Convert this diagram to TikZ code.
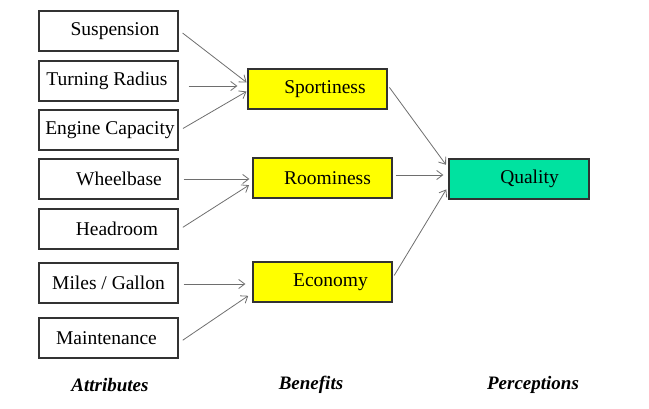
\documentclass[tikz,border=0pt]{standalone}
\usepackage{fontspec}
\setmainfont{Liberation Serif}
\usepackage{xcolor}
\usepackage{tikz}
\usetikzlibrary{
	arrows.meta,
	positioning
}
\definecolor{benefitYellow}{RGB}{255,255,0}
\definecolor{qualGreen}{RGB}{0,226,160}
\definecolor{frameGray}{RGB}{50,50,50}
\definecolor{linkGray}{RGB}{110,110,110}

\tikzset{
	attr/.style={draw=frameGray, line width=1.3pt, fill=white, minimum width=139pt, minimum height=40pt,
		inner sep=0pt, font=\fontsize{19.5}{22}\selectfont},
	benefit/.style={attr, fill=benefitYellow},
	percept/.style={attr, fill=qualGreen, minimum width=140pt},
	heading/.style={font=\fontsize{19}{22}\selectfont\bfseries\itshape},
	link/.style={draw=linkGray, line width=0.8pt, -{Straight Barb[length=6pt,width=9pt]}, shorten <=5pt, shorten >=1pt}
}

\begin{document}
\begin{tikzpicture}[x=1pt, y=1pt]
		\useasboundingbox (0,0) rectangle (649,408);
		% attributes
		\node[attr] (susp) at (108.5,377) {\hspace*{13pt}Suspension};
		\node[attr] (turn) at (108.5,327) {\hspace*{-3pt}Turning Radius};
		\node[attr] (eng) at (108.5,278) {\hspace*{3pt}Engine Capacity};
		\node[attr] (wheel) at (108.5,229) {\hspace*{21pt}Wheelbase};
		\node[attr] (head) at (108.5,179) {\hspace*{17pt}Headroom};
		\node[attr] (miles) at (108.5,125) {Miles / Gallon};
		\node[attr] (maint) at (108.5,70) {\hspace*{-4pt}Maintenance};
		% benefits
		\node[benefit] (sport) at (317.5,319) {\hspace*{15pt}Sportiness};
		\node[benefit] (room) at (322.5,230) {\hspace*{10pt}Roominess};
		\node[benefit] (econ) at (322.5,126) {\hspace*{16pt}Economy};
		% perception
		\node[percept] (qual) at (519,229) {\hspace*{21pt}Quality};
		% headings
		\node[heading] (hattr) at (110,23) {Attributes};
		\node[heading] (hben) at (311,23) {Benefits};
		\node[heading] (hper) at (533,23) {Perceptions};
		% links
		\draw[link] ([yshift=1pt]susp.east) -- ([yshift=6pt]sport.west);
		\draw[link, shorten <=10pt, shorten >=10pt] ([yshift=-5pt]turn.east) -- ([yshift=3pt]sport.west);
		\draw[link] ([yshift=-1pt]eng.east) -- ([yshift=-2pt]sport.west);
		\draw[link, shorten >=3pt] (wheel.east) -- ([yshift=-1pt]room.west);
		\draw[link, shorten >=4pt] ([yshift=-1pt]head.east) -- ([yshift=-5pt]room.west);
		\draw[link, shorten >=7pt] ([yshift=-1pt]miles.east) -- ([yshift=-2pt]econ.west);
		\draw[link, shorten >=5pt] ([yshift=-5pt]maint.east) -- ([yshift=-11pt]econ.west);
		\draw[link, shorten <=3pt, shorten >=4pt] ([yshift=4pt]sport.east) -- ([yshift=11pt]qual.west);
		\draw[link, shorten <=3pt, shorten >=5pt] ([yshift=3pt]room.east) -- ([yshift=4pt]qual.west);
		\draw[link, shorten <=3pt, shorten >=4pt] ([yshift=4pt]econ.east) -- ([yshift=-7pt]qual.west);
	\end{tikzpicture}
\end{document}
